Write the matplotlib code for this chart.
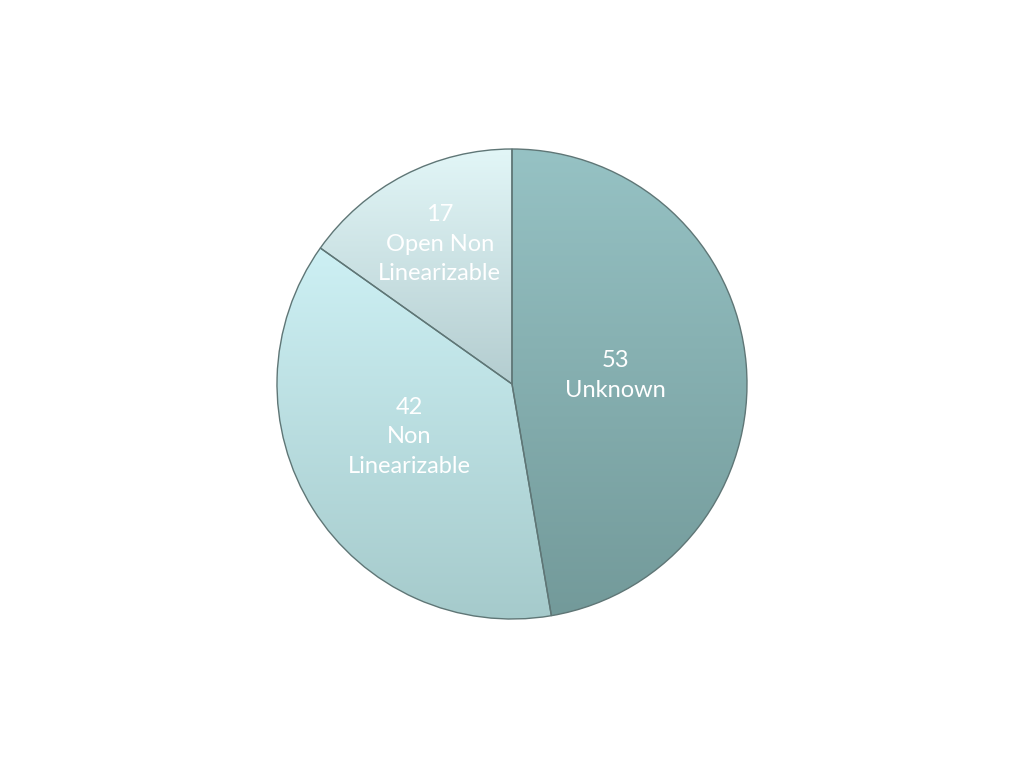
import matplotlib.pyplot as plt
import numpy as np
from matplotlib.colors import LinearSegmentedColormap

counts = [53, 42, 17]
names = ["Unknown", "Non\nLinearizable", "Open Non\nLinearizable"]
top_colors = ["#96c2c4", "#cdf0f4", "#e2f6f7"]
bottom_colors = ["#739a9a", "#a5cacb", "#b4cdd0"]
label_radius = [0.44, 0.49, 0.67]
label_shift = [0, -5, 0]  # degrees

fig = plt.figure(figsize=(10.24, 7.68), dpi=100)
ax = fig.add_axes([0, 0, 1, 1])

wedges, _ = ax.pie(counts, startangle=90, counterclock=False, radius=1,
                   wedgeprops=dict(linewidth=1.0, edgecolor="#5f7676"))

for w, ctop, cbot in zip(wedges, top_colors, bottom_colors):
    w.set_facecolor("none")
    cmap = LinearSegmentedColormap.from_list("g", [cbot, ctop])
    verts = w.get_path().vertices
    x0, x1 = verts[:, 0].min(), verts[:, 0].max()
    y0, y1 = verts[:, 1].min(), verts[:, 1].max()
    grad = np.linspace(0, 1, 256).reshape(-1, 1)
    im = ax.imshow(grad, cmap=cmap, origin="lower", extent=(x0, x1, y0, y1),
                   aspect="auto", zorder=0.5, interpolation="bilinear")
    im.set_clip_path(w)
    w.set_zorder(1)

for w, n, name, r, sh in zip(wedges, counts, names, label_radius, label_shift):
    ang = np.deg2rad((w.theta1 + w.theta2) / 2 + sh)
    ax.text(r * np.cos(ang), r * np.sin(ang), f"{n}\n{name}", ha="center", va="center",
            color="white", fontsize=17, family="Lato", linespacing=1.5, zorder=2)

# one unit of radius is about 235 px
ax.set_xlim(-1024 / 470, 1024 / 470)
ax.set_ylim(-768 / 470, 768 / 470)
ax.set_aspect("equal")
ax.axis("off")

fig.savefig("out.png", dpi=100)
